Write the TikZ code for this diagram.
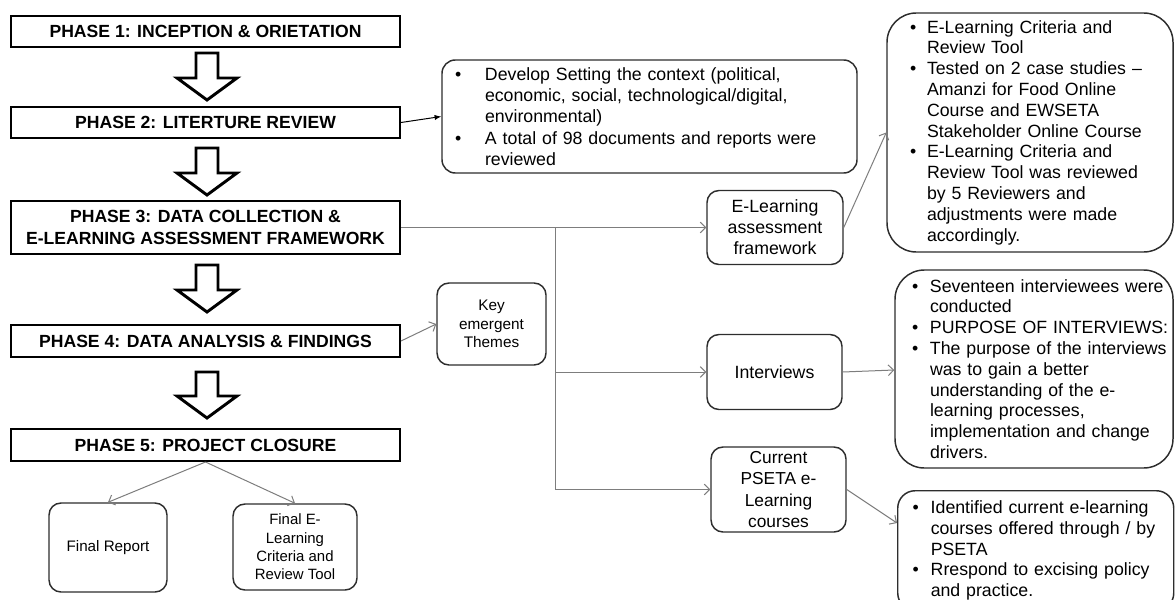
\documentclass[tikz,border=0pt]{standalone}
\usepackage{fontspec}
\setmainfont{Liberation Sans}
\usetikzlibrary{arrows.meta,calc}

\newlength{\bulw}
\newcommand{\bul}{\makebox[\bulw][l]{\textbullet}}
\newcommand{\cont}{\hspace*{\bulw}}

\tikzset{every picture/.style={line width=0.75pt}}
\tikzset{
  phasebox/.style={draw, line width=1.5pt, minimum width=291.75pt, inner sep=0pt, align=center,
    font=\bfseries\fontsize{13.2}{16.3}\selectfont},
  downarrow/.style={draw, line width=2.2pt, line join=miter},
  smallbox/.style={draw={rgb, 255:red, 45; green, 45; blue, 45}, line width=1.1pt, rounded corners=9pt,
    inner sep=0pt, align=center},
  notebox/.style={draw={rgb, 255:red, 45; green, 45; blue, 45}, line width=1.1pt, align=left,
    inner xsep=0pt, font=\fontsize{13.3}{15.6}\selectfont},
  link/.style={color={rgb, 255:red, 125; green, 125; blue, 125}, -{Straight Barb[length=4pt,width=8pt]}},
}

\begin{document}
\begin{tikzpicture}[x=0.75pt,y=0.75pt,yscale=-1,xscale=1]
\useasboundingbox (0,0) rectangle (1176,599);
\clip (0,0) rectangle (1176,599);

%Shape: Rectangle (phases)
\node [phasebox, minimum height=23.25pt] (ph1) at (205.5,31.5) {PHASE 1: INCEPTION \& ORIETATION};
\node [phasebox, minimum height=23.25pt] (ph2) at (205.5,122.5) {PHASE 2: LITERTURE REVIEW};
\node [phasebox, minimum height=39.75pt] (ph3) at (205.5,227.5) {PHASE 3: DATA COLLECTION \&\\E-LEARNING ASSESSMENT FRAMEWORK};
\node [phasebox, minimum height=24pt] (ph4) at (205.5,341) {PHASE 4: DATA ANALYSIS \& FINDINGS};
\node [phasebox, minimum height=24pt] (ph5) at (205.5,445) {PHASE 5: PROJECT CLOSURE};

%Shape: Down Arrow
\draw [downarrow] (196,53) -- (218,53) -- (218,78) -- (237,78) -- (207,100) -- (177,78) -- (196,78) -- cycle ;
%Shape: Down Arrow
\draw [downarrow] (196,148) -- (218,148) -- (218,173) -- (237,173) -- (207,195) -- (177,173) -- (196,173) -- cycle ;
%Shape: Down Arrow
\draw [downarrow] (196,265) -- (218,265) -- (218,290) -- (237,290) -- (207,312) -- (177,290) -- (196,290) -- cycle ;
%Shape: Down Arrow
\draw [downarrow] (196,372) -- (218,372) -- (218,396) -- (237,396) -- (207,418) -- (177,396) -- (196,396) -- cycle ;

%Shape: Rounded Rect (closure outputs)
\node [smallbox, minimum width=88.5pt, minimum height=66.75pt, font=\fontsize{11.4}{13.7}\selectfont] (report) at (108,547.5) {Final Report};
\node [smallbox, minimum width=93pt, minimum height=64.5pt, font=\fontsize{11.2}{13.7}\selectfont] (finaltool) at (295,547) {Final E-\\Learning\\Criteria and\\Review Tool};

%Shape: Rounded Rect (literature)
\node [notebox, rounded corners=10pt, text width=311.25pt, minimum height=84.75pt, font=\fontsize{13.3}{16}\selectfont] (litbox) at (649.5,116.5)
  {\setlength{\bulw}{22.5pt}\leftskip=9.75pt
   \bul Develop Setting the context (political,\\
   \cont economic, social, technological/digital,\\
   \cont environmental)\\
   \bul A total of 98 documents and reports were\\
   \cont reviewed\par};

%Shape: Rounded Rect (methods)
\node [smallbox, minimum width=102pt, minimum height=55.5pt, font=\fontsize{13.3}{15.75}\selectfont] (elaf) at (775,227.5) {E-Learning\\assessment\\framework};
\node [smallbox, minimum width=81.75pt, minimum height=61.5pt, font=\fontsize{11.5}{13.9}\selectfont] (themes) at (491.5,324) {Key\\emergent\\Themes};
\node [smallbox, minimum width=101.25pt, minimum height=56.25pt, font=\fontsize{13.3}{15.75}\selectfont] (interviews) at (774.5,372) {Interviews};
\node [smallbox, minimum width=101.25pt, minimum height=63.75pt, font=\fontsize{13}{16}\selectfont] (pseta) at (778.5,489.5) {Current\\PSETA e-\\Learning\\courses};

%Shape: Rounded Rect (notes)
\node [notebox, rounded corners=22pt, text width=214.5pt, minimum height=179.25pt] (toolbox) at (1030,132.5)
  {\setlength{\bulw}{12.75pt}\leftskip=17.25pt
   \bul E-Learning Criteria and\\
   \cont Review Tool\\
   \bul Tested on 2 case studies --\\
   \cont Amanzi for Food Online\\
   \cont Course and EWSETA\\
   \cont Stakeholder Online Course\\
   \bul E-Learning Criteria and\\
   \cont Review Tool was reviewed\\
   \cont by 5 Reviewers and\\
   \cont adjustments were made\\
   \cont accordingly.\par};
\node [notebox, rounded corners=22pt, text width=208.5pt, minimum height=148.5pt] (intbox) at (1034,369)
  {\setlength{\bulw}{13.5pt}\leftskip=12.75pt
   \bul Seventeen interviewees were\\
   \cont conducted\\
   \bul PURPOSE OF INTERVIEWS:\\
   \bul The purpose of the interviews\\
   \cont was to gain a better\\
   \cont understanding of the e-\\
   \cont learning processes,\\
   \cont implementation and change\\
   \cont drivers.\par};
\node [notebox, rounded corners=13pt, text width=207pt, inner ysep=7.5pt, anchor=north west] (psetabox) at (897,490)
  {\setlength{\bulw}{13.5pt}\leftskip=11.25pt
   \bul Identified current e-learning\\
   \cont courses offered through / by\\
   \cont PSETA\\
   \bul Rrespond to excising policy\\
   \cont and practice.\par};

%Straight Lines
\coordinate (trunk) at (555,227.5);
\draw [-{Latex[length=5pt,width=4pt]}] (ph2.east) -- (litbox.west);
\draw [link] (ph3.east) -- (elaf.west);
\draw [link] (trunk) |- (interviews.west);
\draw [link] (trunk) |- (pseta.west);
\draw [link] (ph4.east) -- (themes.west);
\draw [link] (ph5.south) -- (report.north);
\draw [link] (ph5.south) -- (finaltool.north);
\draw [link] (elaf.east) -- (toolbox.west);
\draw [link] (interviews.east) -- ($(intbox.west)+(0,1)$);
\draw [link] (pseta.east) -- ($(psetabox.north west)+(0,33)$);

\end{tikzpicture}
\end{document}
